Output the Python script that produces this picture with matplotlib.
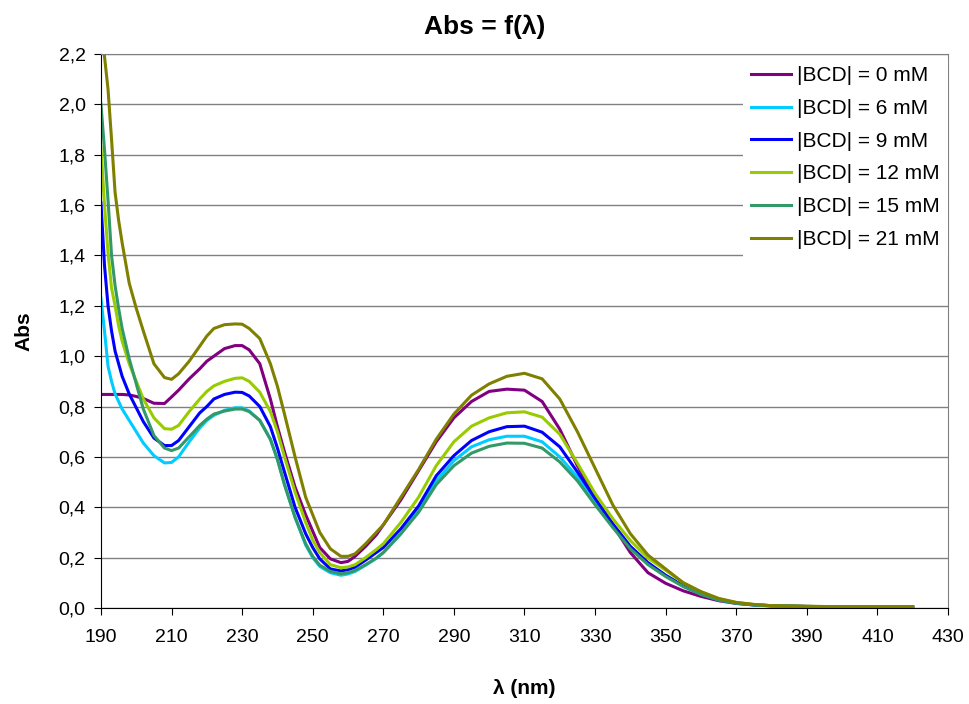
import matplotlib
matplotlib.use("Agg")
import matplotlib.pyplot as plt
from matplotlib.ticker import FuncFormatter, MultipleLocator, FixedLocator

plt.rcParams['font.family'] = ['Liberation Sans', 'DejaVu Sans']

# wavelengths (nm)
wl = [190, 191, 192, 193, 194, 195, 196, 198, 200, 202, 205, 208, 210, 212, 215,
      218, 220, 222, 225, 228, 230, 232, 235, 238, 240, 242, 245, 248, 250, 252,
      255, 258, 260, 262, 265, 268, 270, 275, 280, 285, 290, 295, 300, 305, 310,
      315, 320, 325, 330, 335, 340, 345, 350, 355, 360, 365, 370, 375, 380, 390,
      400, 410, 420]

abs_0 = [0.848, 0.848, 0.848, 0.848, 0.848, 0.848, 0.848, 0.846, 0.84, 0.832, 0.813,
         0.812, 0.838, 0.865, 0.91, 0.95, 0.98, 1.0, 1.03, 1.042, 1.042, 1.025, 0.97,
         0.83, 0.72, 0.62, 0.48, 0.37, 0.305, 0.24, 0.195, 0.18, 0.185, 0.205, 0.245,
         0.29, 0.33, 0.43, 0.545, 0.66, 0.755, 0.82, 0.86, 0.869, 0.865, 0.82, 0.71,
         0.565, 0.435, 0.33, 0.22, 0.14, 0.098, 0.068, 0.046, 0.029, 0.018, 0.012,
         0.009, 0.006, 0.005, 0.004, 0.004]

abs_6 = [1.23, 1.10, 0.96, 0.90, 0.85, 0.82, 0.79, 0.745, 0.70, 0.655, 0.605, 0.576,
         0.578, 0.60, 0.66, 0.715, 0.745, 0.765, 0.785, 0.795, 0.795, 0.782, 0.745,
         0.67, 0.59, 0.49, 0.36, 0.25, 0.20, 0.165, 0.14, 0.13, 0.135, 0.145, 0.17,
         0.197, 0.22, 0.295, 0.39, 0.505, 0.585, 0.64, 0.668, 0.682, 0.682, 0.66, 0.60,
         0.52, 0.42, 0.33, 0.24, 0.176, 0.128, 0.087, 0.055, 0.032, 0.019, 0.012,
         0.008, 0.006, 0.005, 0.004, 0.004]

abs_9 = [1.61, 1.36, 1.20, 1.10, 1.02, 0.97, 0.92, 0.85, 0.795, 0.74, 0.675, 0.645,
         0.645, 0.665, 0.72, 0.775, 0.80, 0.83, 0.848, 0.857, 0.856, 0.842, 0.80, 0.72,
         0.635, 0.54, 0.40, 0.295, 0.24, 0.195, 0.155, 0.147, 0.152, 0.162, 0.19, 0.22,
         0.24, 0.315, 0.405, 0.525, 0.605, 0.665, 0.70, 0.72, 0.722, 0.698, 0.64, 0.54,
         0.435, 0.335, 0.245, 0.18, 0.13, 0.088, 0.056, 0.033, 0.02, 0.013, 0.009,
         0.006, 0.005, 0.004, 0.004]

abs_12 = [1.83, 1.60, 1.41, 1.27, 1.20, 1.12, 1.06, 0.97, 0.90, 0.83, 0.755, 0.712,
          0.71, 0.725, 0.78, 0.83, 0.86, 0.882, 0.90, 0.912, 0.914, 0.90, 0.857, 0.78,
          0.70, 0.60, 0.46, 0.34, 0.27, 0.22, 0.172, 0.16, 0.163, 0.172, 0.20, 0.232,
          0.255, 0.34, 0.44, 0.565, 0.66, 0.722, 0.755, 0.775, 0.779, 0.758, 0.69,
          0.575, 0.455, 0.355, 0.268, 0.198, 0.15, 0.10, 0.064, 0.037, 0.022, 0.014,
          0.009, 0.0065, 0.005, 0.0045, 0.004]

abs_15 = [2.0, 1.82, 1.62, 1.40, 1.28, 1.19, 1.11, 0.99, 0.89, 0.79, 0.685, 0.635,
          0.625, 0.635, 0.68, 0.725, 0.75, 0.77, 0.782, 0.79, 0.79, 0.78, 0.745, 0.67,
          0.59, 0.49, 0.36, 0.255, 0.205, 0.17, 0.145, 0.136, 0.14, 0.149, 0.172, 0.198,
          0.22, 0.295, 0.38, 0.49, 0.565, 0.615, 0.642, 0.655, 0.654, 0.635, 0.58,
          0.505, 0.41, 0.32, 0.235, 0.172, 0.125, 0.085, 0.054, 0.032, 0.019, 0.012,
          0.008, 0.006, 0.005, 0.004, 0.004]

abs_21 = [2.32, 2.19, 2.06, 1.86, 1.65, 1.54, 1.45, 1.29, 1.19, 1.10, 0.97, 0.915,
          0.908, 0.93, 0.98, 1.04, 1.08, 1.11, 1.125, 1.128, 1.127, 1.11, 1.07, 0.97,
          0.88, 0.77, 0.60, 0.44, 0.37, 0.30, 0.235, 0.205, 0.205, 0.215, 0.255, 0.30,
          0.33, 0.44, 0.55, 0.67, 0.77, 0.845, 0.89, 0.92, 0.932, 0.91, 0.83, 0.70,
          0.555, 0.41, 0.295, 0.21, 0.155, 0.10, 0.065, 0.038, 0.022, 0.014, 0.009,
          0.0065, 0.005, 0.0045, 0.004]

labels = ['|BCD| = 0 mM', '|BCD| = 6 mM', '|BCD| = 9 mM',
          '|BCD| = 12 mM', '|BCD| = 15 mM', '|BCD| = 21 mM']
series = [abs_0, abs_6, abs_9, abs_12, abs_15, abs_21]
colors = ['#800080', '#00CCFF', '#0000FF', '#99CC00', '#339966', '#808000']
xticks = list(range(190, 431, 20))

fig = plt.figure(figsize=(9.69, 7.04), dpi=100)
ax = fig.add_axes([0.1042, 0.1364, 0.8741, 0.7869])

for y, lab, c in zip(series, labels, colors):
    ax.plot(wl, y, color=c, lw=2.2, label=lab)

ax.set_xlim(190, 430)
ax.set_ylim(0, 2.2)
ax.xaxis.set_major_locator(FixedLocator(xticks))
ax.yaxis.set_major_locator(MultipleLocator(0.2))
ax.yaxis.set_major_formatter(FuncFormatter(lambda v, p: f'{v:.1f}'.replace('.', ',')))
ax.grid(axis='y', color='#808080', lw=1)
ax.set_axisbelow(True)
for s in ['top', 'right']:
    ax.spines[s].set_color('#808080')
for s in ['left', 'bottom']:
    ax.spines[s].set_color('black')
ax.tick_params(direction='out', length=5, labelsize=14, pad=6)
ax.tick_params(axis='x', pad=10)

# title is centred on the whole figure, not on the axes
fig.text(0.5, 0.962, 'Abs = f(λ)', fontsize=19, fontweight='bold',
         ha='center', va='center')
ax.set_xlabel('λ (nm)', fontsize=15, fontweight='bold', labelpad=24)
ax.set_ylabel('Abs', fontsize=15, fontweight='bold', labelpad=18)

leg = ax.legend(loc='upper right', bbox_to_anchor=(1.0, 0.993), frameon=True,
                fancybox=False, edgecolor='white', framealpha=1, fontsize=15,
                handlelength=1.9, handletextpad=0.3, labelspacing=0.66,
                borderaxespad=0)
leg.get_frame().set_linewidth(0)

fig.savefig('out.png', dpi=100)
plt.close(fig)
